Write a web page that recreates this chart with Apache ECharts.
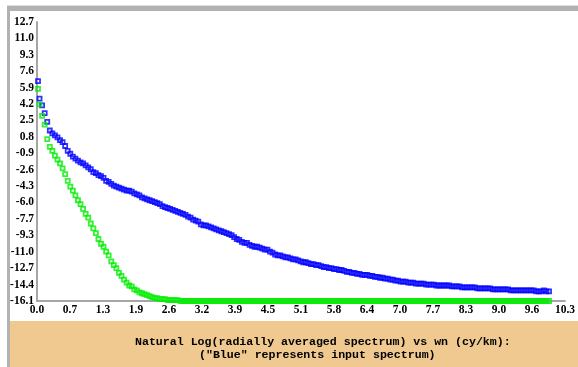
<!DOCTYPE html>
<html>
<head>
<meta charset="utf-8">
<title>spectrum</title>
<script src="https://cdn.jsdelivr.net/npm/echarts@6/dist/echarts.min.js"></script>
<style>
  html, body { margin: 0; padding: 0; background: #fff; }
  #chart { width: 578px; height: 367px; }
</style>
</head>
<body>
<div id="chart"></div>
<script>
// wavenumber (cy/km)
var wn = [
  0.02,
  0.05, 0.10, 0.15, 0.20, 0.25, 0.30, 0.35, 0.40, 0.45, 0.50,
  0.55, 0.60, 0.65, 0.70, 0.75, 0.80, 0.85, 0.90, 0.95, 1.00,
  1.05, 1.10, 1.15, 1.20, 1.25, 1.30, 1.35, 1.40, 1.45, 1.50,
  1.55, 1.60, 1.65, 1.70, 1.75, 1.80, 1.85, 1.90, 1.95, 2.00,
  2.05, 2.10, 2.15, 2.20, 2.25, 2.30, 2.35, 2.40, 2.45, 2.50,
  2.55, 2.60, 2.65, 2.70, 2.75, 2.80, 2.85, 2.90, 2.95, 3.00,
  3.05, 3.10, 3.15, 3.20, 3.25, 3.30, 3.35, 3.40, 3.45, 3.50,
  3.55, 3.60, 3.65, 3.70, 3.75, 3.80, 3.85, 3.90, 3.95, 4.00,
  4.05, 4.10, 4.15, 4.20, 4.25, 4.30, 4.35, 4.40, 4.45, 4.50,
  4.55, 4.60, 4.65, 4.70, 4.75, 4.80, 4.85, 4.90, 4.95, 5.00,
  5.05, 5.10, 5.15, 5.20, 5.25, 5.30, 5.35, 5.40, 5.45, 5.50,
  5.55, 5.60, 5.65, 5.70, 5.75, 5.80, 5.85, 5.90, 5.95, 6.00,
  6.05, 6.10, 6.15, 6.20, 6.25, 6.30, 6.35, 6.40, 6.45, 6.50,
  6.55, 6.60, 6.65, 6.70, 6.75, 6.80, 6.85, 6.90, 6.95, 7.00,
  7.05, 7.10, 7.15, 7.20, 7.25, 7.30, 7.35, 7.40, 7.45, 7.50,
  7.55, 7.60, 7.65, 7.70, 7.75, 7.80, 7.85, 7.90, 7.95, 8.00,
  8.05, 8.10, 8.15, 8.20, 8.25, 8.30, 8.35, 8.40, 8.45, 8.50,
  8.55, 8.60, 8.65, 8.70, 8.75, 8.80, 8.85, 8.90, 8.95, 9.00,
  9.05, 9.10, 9.15, 9.20, 9.25, 9.30, 9.35, 9.40, 9.45, 9.50,
  9.55, 9.60, 9.65, 9.70, 9.75, 9.80, 9.85, 9.90, 9.95, 10.00
];

// ln(spectrum), input (blue)
var lnInput = [
  6.6,
  4.8, 4.1, 3.3, 2.4, 1.5, 1.2, 1.0, 0.8, 0.5, 0.3,
  -0.1, -0.6, -0.9, -1.2, -1.4, -1.6, -1.8, -1.9, -2.1, -2.3,
  -2.5, -2.8, -2.9, -3.1, -3.2, -3.4, -3.7, -3.8, -4.0, -4.2,
  -4.3, -4.4, -4.5, -4.6, -4.7, -4.7, -4.8, -5.0, -5.1, -5.2,
  -5.4, -5.5, -5.6, -5.7, -5.8, -5.9, -6.0, -6.1, -6.3, -6.4,
  -6.5, -6.6, -6.7, -6.8, -6.9, -7.0, -7.1, -7.2, -7.4, -7.5,
  -7.7, -7.8, -7.9, -8.2, -8.3, -8.3, -8.4, -8.5, -8.6, -8.7,
  -8.8, -8.9, -9.0, -9.1, -9.2, -9.3, -9.5, -9.7, -9.8, -10.0,
  -10.1, -10.1, -10.3, -10.4, -10.5, -10.5, -10.6, -10.7, -10.8, -10.8,
  -11.0, -11.1, -11.3, -11.4, -11.4, -11.5, -11.6, -11.6, -11.7, -11.8,
  -11.8, -11.9, -12.0, -12.1, -12.1, -12.2, -12.3, -12.3, -12.4, -12.4,
  -12.5, -12.6, -12.6, -12.7, -12.7, -12.8, -12.8, -12.9, -12.9, -13.0,
  -13.1, -13.1, -13.2, -13.2, -13.3, -13.3, -13.4, -13.4, -13.4, -13.5,
  -13.5, -13.6, -13.6, -13.7, -13.7, -13.8, -13.8, -13.9, -13.9, -14.0,
  -14.0, -14.1, -14.1, -14.1, -14.2, -14.2, -14.2, -14.3, -14.3, -14.3,
  -14.3, -14.4, -14.4, -14.4, -14.4, -14.5, -14.5, -14.5, -14.5, -14.5,
  -14.5, -14.6, -14.6, -14.6, -14.6, -14.7, -14.7, -14.7, -14.7, -14.7,
  -14.7, -14.8, -14.8, -14.8, -14.8, -14.8, -14.8, -14.9, -14.9, -14.9,
  -14.9, -14.9, -14.9, -14.9, -15.0, -15.0, -15.0, -15.0, -15.0, -15.0,
  -15.0, -15.0, -15.0, -15.0, -15.1, -15.1, -15.1, -15.0, -15.1, -15.1
];

// ln(spectrum), output (green)
var lnOutput = [
  5.8,
  4.2, 3.0, 2.1, 0.6, -0.2, -0.6, -1.1, -1.5, -1.9, -2.4,
  -3.0, -3.7, -4.3, -4.7, -5.2, -5.7, -6.1, -6.6, -7.1, -7.5,
  -8.1, -8.6, -9.1, -9.7, -10.2, -10.5, -11.0, -11.4, -12.0, -12.4,
  -12.7, -13.2, -13.5, -13.9, -14.2, -14.5, -14.6, -14.9, -15.0, -15.2,
  -15.3, -15.4, -15.5, -15.6, -15.7, -15.8, -15.8, -15.9, -15.9, -15.9,
  -16.0, -16.0, -16.0, -16.0, -16.0, -16.1, -16.1, -16.1, -16.1, -16.1,
  -16.1, -16.1, -16.1, -16.1, -16.1, -16.1, -16.1, -16.1, -16.1, -16.1,
  -16.1, -16.1, -16.1, -16.1, -16.1, -16.1, -16.1, -16.1, -16.1, -16.1,
  -16.1, -16.1, -16.1, -16.1, -16.1, -16.1, -16.1, -16.1, -16.1, -16.1,
  -16.1, -16.1, -16.1, -16.1, -16.1, -16.1, -16.1, -16.1, -16.1, -16.1,
  -16.1, -16.1, -16.1, -16.1, -16.1, -16.1, -16.1, -16.1, -16.1, -16.1,
  -16.1, -16.1, -16.1, -16.1, -16.1, -16.1, -16.1, -16.1, -16.1, -16.1,
  -16.1, -16.1, -16.1, -16.1, -16.1, -16.1, -16.1, -16.1, -16.1, -16.1,
  -16.1, -16.1, -16.1, -16.1, -16.1, -16.1, -16.1, -16.1, -16.1, -16.1,
  -16.1, -16.1, -16.1, -16.1, -16.1, -16.1, -16.1, -16.1, -16.1, -16.1,
  -16.1, -16.1, -16.1, -16.1, -16.1, -16.1, -16.1, -16.1, -16.1, -16.1,
  -16.1, -16.1, -16.1, -16.1, -16.1, -16.1, -16.1, -16.1, -16.1, -16.1,
  -16.1, -16.1, -16.1, -16.1, -16.1, -16.1, -16.1, -16.1, -16.1, -16.1,
  -16.1, -16.1, -16.1, -16.1, -16.1, -16.1, -16.1, -16.1, -16.1, -16.1,
  -16.1, -16.1, -16.1, -16.1, -16.1, -16.1, -16.1, -16.1, -16.1, -16.1
];

// tick labels as printed on the original
var xTickLabels = ['0.0', '0.7', '1.3', '1.9', '2.6', '3.2', '3.9', '4.5', '5.1',
  '5.8', '6.4', '7.0', '7.7', '8.3', '9.0', '9.6', '10.3'];
var yTickLabels = ['-16.1', '-14.4', '-12.7', '-11.0', '-9.3', '-7.7', '-6.0', '-4.3',
  '-2.6', '-0.9', '0.8', '2.5', '4.2', '5.9', '7.6', '9.3', '11.0', '12.7'];

var titleLines = [
  'Natural Log(radially averaged spectrum) vs wn (cy/km):',
  '("Blue" represents input spectrum)'
];

var X_MAX = 10.31, X_STEP = X_MAX / 16;
var Y_MIN = -16.1, Y_MAX = 12.7, Y_STEP = (Y_MAX - Y_MIN) / 17;

function pairs(xs, ys) {
  var out = [];
  for (var i = 0; i < xs.length; i++) out.push([xs[i], ys[i]]);
  return out;
}

// hollow square markers, packed tight so the curve reads as a band
function squareSeries(name, data, color) {
  return {
    name: name,
    type: 'scatter',
    symbol: 'rect',
    symbolSize: 4,
    itemStyle: { color: 'rgba(0,0,0,0)', borderColor: color, borderWidth: 1.8 },
    data: data,
    silent: true
  };
}

var tickFont = { fontFamily: '"Liberation Serif", serif', fontWeight: 'bold', fontSize: 11.5, color: '#000' };
var axisGray = { show: true, onZero: false, lineStyle: { color: '#a6a6a6', width: 2 } };

var chart = echarts.init(document.getElementById('chart'), null, { renderer: 'canvas' });
var option = {
  animation: false,
  backgroundColor: '#fff',
  grid: { left: 37, right: 7, top: 22, bottom: 66, containLabel: false },
  xAxis: {
    type: 'value', min: 0, max: X_MAX, interval: X_STEP,
    axisLine: axisGray,
    axisTick: { show: false },
    splitLine: { show: false },
    axisLabel: Object.assign({
      margin: 3,
      showMinLabel: true, showMaxLabel: true,
      formatter: function (v) { return xTickLabels[Math.round(v / X_STEP)] || ''; }
    }, tickFont)
  },
  yAxis: {
    type: 'value', min: Y_MIN, max: Y_MAX, interval: Y_STEP,
    axisLine: axisGray,
    axisTick: { show: false },
    splitLine: { show: false },
    axisLabel: Object.assign({
      margin: 3,
      formatter: function (v) { return yTickLabels[Math.round((v - Y_MIN) / Y_STEP)] || ''; }
    }, tickFont)
  },
  graphic: [
    { type: 'rect', z: -10, shape: { x: 7, y: 5, width: 571, height: 1 }, style: { fill: '#dedede' } },
    { type: 'rect', z: -10, shape: { x: 7, y: 6, width: 571, height: 5 }, style: { fill: '#b2b2b2' } },
    { type: 'rect', z: -10, shape: { x: 7, y: 6, width: 3, height: 361 }, style: { fill: '#b2b2b2' } },
    { type: 'rect', z: -10, shape: { x: 10, y: 321, width: 568, height: 46 }, style: { fill: '#efc98f' } },
    { type: 'text', z: 10, style: { text: titleLines[0], x: 135, y: 342, fill: '#000',
      font: 'bold 11.6px "Liberation Mono", monospace', align: 'left', verticalAlign: 'middle' } },
    { type: 'text', z: 10, style: { text: titleLines[1], x: 199, y: 355, fill: '#000',
      font: 'bold 11.6px "Liberation Mono", monospace', align: 'left', verticalAlign: 'middle' } }
  ],
  series: [
    squareSeries('input', pairs(wn, lnInput), '#0000ff'),
    squareSeries('output', pairs(wn, lnOutput), '#00ee00')
  ]
};
chart.setOption(option);
</script>
</body>
</html>
